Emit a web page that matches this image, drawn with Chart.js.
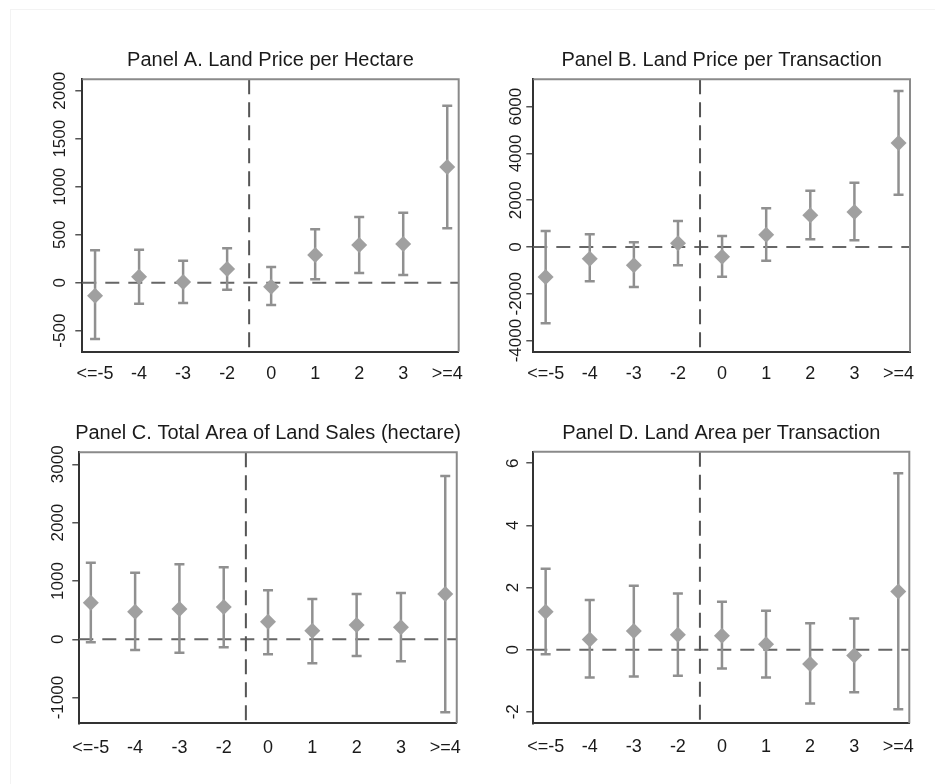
<!DOCTYPE html>
<html><head><meta charset="utf-8">
<script src="https://cdn.jsdelivr.net/npm/chart.js@4/dist/chart.umd.min.js"></script>
<style>
html,body{margin:0;padding:0;background:#fff;}
#page{position:relative;width:935px;height:784px;overflow:hidden;background:#fff;}
#edge{position:absolute;left:10px;top:9px;right:0;bottom:0;border-left:1px solid #f3f3f3;border-top:1px solid #f3f3f3;}
canvas{position:absolute;display:block;}
</style></head><body>
<div id="page"><div id="edge"></div>
<canvas id="cA" width="467" height="392" style="left:0;top:0"></canvas>
<canvas id="cB" width="468" height="392" style="left:467px;top:0"></canvas>
<canvas id="cC" width="467" height="392" style="left:0;top:392px"></canvas>
<canvas id="cD" width="468" height="392" style="left:467px;top:392px"></canvas>
</div>
<script>
// ---- data ----
const categories = ['<=-5', '-4', '-3', '-2', '0', '1', '2', '3', '>=4'];

const priceHaEst  = [-135, 62, 7, 143, -42, 288, 393, 403, 1205];
const priceHaLow  = [-587, -219, -211, -73, -232, 35, 101, 80, 567];
const priceHaHigh = [337, 344, 229, 358, 163, 556, 684, 729, 1844];
const priceHaTicks = [-500, 0, 500, 1000, 1500, 2000];

const priceTrEst  = [-1283, -500, -783, 157, -413, 527, 1353, 1497, 4446];
const priceTrLow  = [-3263, -1467, -1710, -783, -1268, -584, 328, 285, 2238];
const priceTrHigh = [684, 543, 200, 1111, 470, 1653, 2408, 2750, 6669];
const priceTrTicks = [-4000, -2000, 0, 2000, 4000, 6000];

const areaTotEst  = [627, 474, 520, 554, 303, 148, 246, 206, 777];
const areaTotLow  = [-51, -183, -229, -137, -257, -411, -286, -377, -1251];
const areaTotHigh = [1314, 1143, 1286, 1234, 840, 691, 777, 794, 2800];
const areaTotTicks = [-1000, 0, 1000, 2000, 3000];

const areaTrEst  = [1.22, 0.33, 0.60, 0.48, 0.45, 0.17, -0.46, -0.19, 1.87];
const areaTrLow  = [-0.15, -0.90, -0.86, -0.84, -0.61, -0.90, -1.73, -1.37, -1.92];
const areaTrHigh = [2.60, 1.60, 2.06, 1.81, 1.54, 1.25, 0.85, 1.00, 5.68];
const areaTrTicks = [-2, 0, 2, 4, 6];

const titles = [
  'Panel A. Land Price per Hectare',
  'Panel B. Land Price per Transaction',
  'Panel C. Total Area of Land Sales (hectare)',
  'Panel D. Land Area per Transaction'
];
const eventLine = 3.5; // boundary between -2 and 0

// ---- drawing ----
const FONT = "'Liberation Sans', Arial, Helvetica, sans-serif";
Chart.defaults.font.family = FONT;

function makeDeco(title, low, high, yTicks, labelOffset) {
  return {
    id: 'deco',
    beforeDatasetsDraw(chart) {
      const {ctx, chartArea: a, scales: {x, y}} = chart;
      ctx.save();
      ctx.lineWidth = 2;
      ctx.setLineDash([14, 9]);
      ctx.strokeStyle = '#666';
      const y0 = y.getPixelForValue(0);
      ctx.beginPath(); ctx.moveTo(a.left, y0); ctx.lineTo(a.right, y0); ctx.stroke();
      ctx.setLineDash([15, 8]);
      ctx.strokeStyle = '#555';
      const xv = x.getPixelForValue(eventLine);
      ctx.beginPath(); ctx.moveTo(xv, a.top); ctx.lineTo(xv, a.bottom); ctx.stroke();
      ctx.setLineDash([]);
      ctx.strokeStyle = '#909090';
      ctx.lineWidth = 2.5;
      low.forEach((lo, i) => {
        const px = x.getPixelForValue(i);
        const p1 = y.getPixelForValue(lo);
        const p2 = y.getPixelForValue(high[i]);
        ctx.beginPath();
        ctx.moveTo(px, p1); ctx.lineTo(px, p2);
        ctx.moveTo(px - 5, p1); ctx.lineTo(px + 5, p1);
        ctx.moveTo(px - 5, p2); ctx.lineTo(px + 5, p2);
        ctx.stroke();
      });
      ctx.restore();
    },
    afterDraw(chart) {
      const {ctx, chartArea: a, scales: {y}} = chart;
      ctx.save();
      // top / right frame
      ctx.strokeStyle = '#8a8a8a';
      ctx.lineWidth = 2;
      ctx.beginPath();
      ctx.moveTo(a.left, a.top); ctx.lineTo(a.right, a.top); ctx.lineTo(a.right, a.bottom);
      ctx.stroke();
      // title
      ctx.fillStyle = '#1a1a1a';
      ctx.font = '20px ' + FONT;
      ctx.textAlign = 'center';
      ctx.textBaseline = 'alphabetic';
      ctx.fillText(title, (a.left + a.right) / 2, a.top - 13);
      // rotated y tick labels
      ctx.font = '17px ' + FONT;
      ctx.textBaseline = 'middle';
      y.ticks.forEach(t => {
        const py = y.getPixelForValue(t.value);
        ctx.save();
        ctx.translate(a.left - labelOffset, py);
        ctx.rotate(-Math.PI / 2);
        ctx.fillText(String(t.value), 0, 0);
        ctx.restore();
      });
      ctx.restore();
    }
  };
}

function makeChart(id, p) {
  const ds = p.est.map((v, i) => ({x: i, y: v}));
  return new Chart(document.getElementById(id), {
    type: 'scatter',
    data: {datasets: [{
      data: ds,
      pointStyle: 'rectRot',
      pointRadius: 8,
      pointHoverRadius: 8,
      backgroundColor: '#a0a0a0',
      borderColor: '#a0a0a0',
      borderWidth: 0
    }]},
    options: {
      responsive: false,
      devicePixelRatio: 1,
      animation: false,
      events: [],
      layout: {padding: p.pad},
      plugins: {legend: {display: false}, tooltip: {enabled: false}, title: {display: false}},
      scales: {
        x: {
          type: 'linear',
          min: p.xr[0], max: p.xr[1],
          afterBuildTicks: s => { s.ticks = categories.map((_, i) => ({value: i})); },
          afterFit: s => { s.height = 30; },
          grid: {display: false},
          border: {display: true, color: '#333', width: 2},
          ticks: {
            autoSkip: false, maxRotation: 0, minRotation: 0,
            padding: p.xpad,
            color: '#1a1a1a',
            font: {size: 18, family: FONT},
            callback: v => categories[v]
          }
        },
        y: {
          type: 'linear',
          min: p.yr[0], max: p.yr[1],
          afterBuildTicks: s => { s.ticks = p.yt.map(v => ({value: v})); },
          afterFit: s => { s.width = p.yw; },
          grid: {display: true, drawOnChartArea: false, drawTicks: true, tickLength: 7, color: '#555', lineWidth: 1.5},
          border: {display: true, color: '#333', width: 2},
          ticks: {display: false}
        }
      }
    },
    plugins: [makeDeco(p.title, p.low, p.high, p.yt, p.lo)]
  });
}

makeChart('cA', {title: titles[0], est: priceHaEst, low: priceHaLow, high: priceHaHigh, yt: priceHaTicks,
  yr: [-719, 2119], xr: [-0.29, 8.26], yw: 82.3, pad: {top: 79.3, right: 8, bottom: 10.3, left: 0}, xpad: 4, lo: 21.5});
makeChart('cB', {title: titles[1], est: priceTrEst, low: priceTrLow, high: priceTrHigh, yt: priceTrTicks,
  yr: [-4476, 7170], xr: [-0.28, 8.26], yw: 66.3, pad: {top: 79.3, right: 25, bottom: 10.3, left: 0}, xpad: 3.5, lo: 16.6});
makeChart('cC', {title: titles[2], est: areaTotEst, low: areaTotLow, high: areaTotHigh, yt: areaTotTicks,
  yr: [-1440, 3206], xr: [-0.26, 8.26], yw: 79.3, pad: {top: 60.3, right: 8, bottom: 30.7, left: 0}, xpad: 6, lo: 20.5});
makeChart('cD', {title: titles[3], est: areaTrEst, low: areaTrLow, high: areaTrHigh, yt: areaTrTicks,
  yr: [-2.37, 6.37], xr: [-0.28, 8.25], yw: 66.3, pad: {top: 59.7, right: 25.7, bottom: 30.7, left: 0}, xpad: 5, lo: 20});
</script>
</body></html>
